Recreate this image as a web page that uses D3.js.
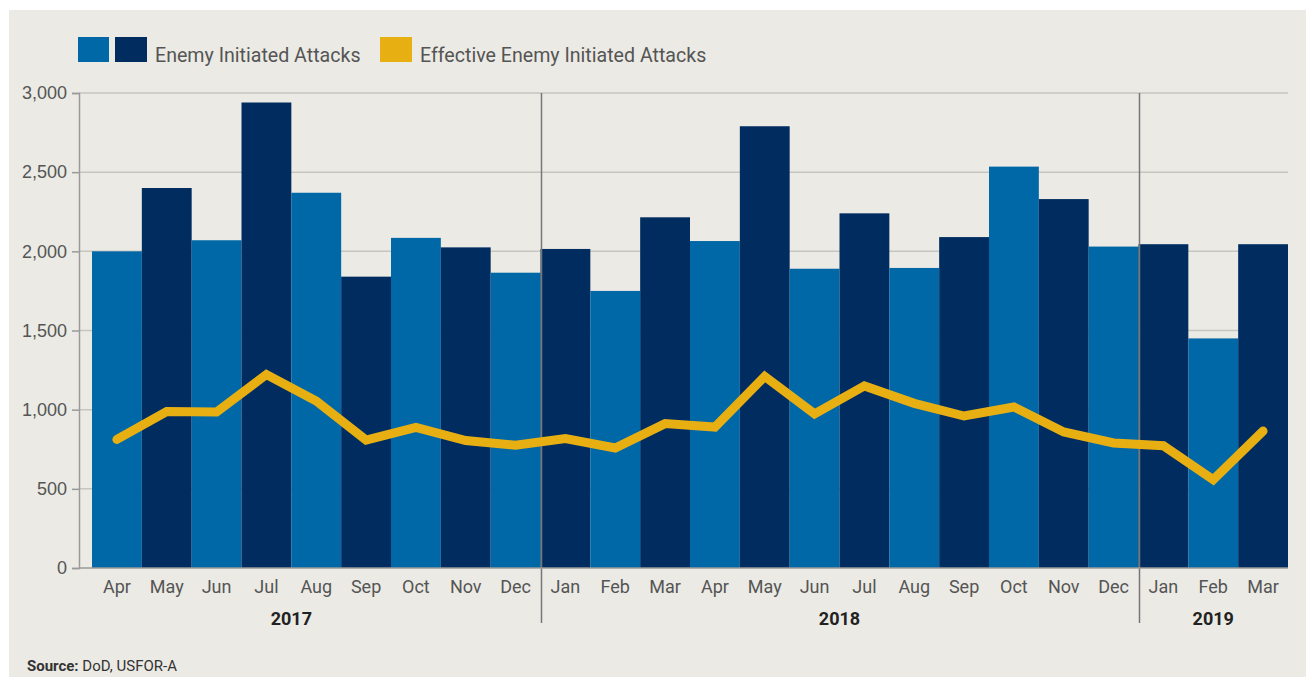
<!DOCTYPE html>
<html>
<head>
<meta charset="utf-8">
<script src="https://cdn.jsdelivr.net/npm/d3@7"></script>
<style>
  body { margin: 0; background: #ffffff; }
  svg { display: block; font-family: Roboto, "Open Sans", sans-serif; }
</style>
</head>
<body>
<svg id="chart" width="1306" height="677"></svg>
<script>
// month labels, one per bar
var months = ["Apr", "May", "Jun", "Jul", "Aug", "Sep", "Oct", "Nov", "Dec",
    "Jan", "Feb", "Mar", "Apr", "May", "Jun", "Jul", "Aug", "Sep", "Oct", "Nov", "Dec",
    "Jan", "Feb", "Mar"];
var years = [2017, 2017, 2017, 2017, 2017, 2017, 2017, 2017, 2017,
    2018, 2018, 2018, 2018, 2018, 2018, 2018, 2018, 2018, 2018, 2018, 2018,
    2019, 2019, 2019];

// enemy initiated attacks (bars)
var attacks = [2000, 2400, 2070, 2940, 2370, 1840, 2085, 2025, 1865,
    2015, 1750, 2215, 2065, 2790, 1890, 2240, 1895, 2090, 2535, 2330, 2030,
    2045, 1450, 2045];

// effective enemy initiated attacks (line)
var effective = [812, 988, 985, 1222, 1055, 808, 888, 805, 775,
    818, 758, 912, 890, 1210, 973, 1150, 1040, 960, 1017, 859, 790,
    772, 558, 865];

var yTicks = [0, 500, 1000, 1500, 2000, 2500, 3000];
var yearNames = [2017, 2018, 2019];

var lightBlue = "#0068a6",
    darkBlue = "#002c60",
    gold = "#e8af12",
    textGrey = "#555555";

var svg = d3.select("#chart");

// beige panel
svg.append("rect")
    .attr("x", 9).attr("y", 10)
    .attr("width", 1306 - 9).attr("height", 677 - 10)
    .attr("fill", "#ebeae4");

var keys = months.map(function (m, i) { return years[i] + "-" + m; });

var x = d3.scaleBand()
    .domain(keys)
    .range([92, 1288])
    .padding(0);

var y = d3.scaleLinear()
    .domain([0, 3000])
    .range([568, 93]);

// gridlines
svg.append("g")
    .selectAll("line")
    .data(yTicks.filter(function (d) { return d > 0; }))
    .enter().append("line")
    .attr("x1", 79).attr("x2", 1288)
    .attr("y1", function (d) { return y(d); })
    .attr("y2", function (d) { return y(d); })
    .attr("stroke", "#c6c5c0")
    .attr("stroke-width", 1.5);

// bars, alternating colours
svg.append("g")
    .selectAll("rect")
    .data(attacks)
    .enter().append("rect")
    .attr("x", function (d, i) { return x(keys[i]); })
    .attr("y", function (d) { return y(d); })
    .attr("width", x.bandwidth())
    .attr("height", function (d) { return y(0) - y(d); })
    .attr("fill", function (d, i) { return i % 2 == 0 ? lightBlue : darkBlue; });

// year separators
var firstOfYear = yearNames.slice(1).map(function (yr) {
    return x(keys[years.indexOf(yr)]);
});
svg.append("g")
    .selectAll("line")
    .data(firstOfYear)
    .enter().append("line")
    .attr("x1", function (d) { return d + 1; })
    .attr("x2", function (d) { return d + 1; })
    .attr("y1", 93).attr("y2", 623)
    .attr("stroke", "#77777a")
    .attr("stroke-width", 1.5);

// x baseline
svg.append("line")
    .attr("x1", 79).attr("x2", 1288)
    .attr("y1", y(0)).attr("y2", y(0))
    .attr("stroke", "#9a9a9a")
    .attr("stroke-width", 1.5);

// y axis
var yAxis = svg.append("g")
    .attr("transform", "translate(79,0)")
    .call(d3.axisLeft(y).tickValues(yTicks).tickSize(7).tickPadding(5)
        .tickFormat(d3.format(",")));
yAxis.select(".domain").attr("stroke", "#9a9a9a").attr("stroke-width", 1.5);
yAxis.selectAll(".tick line").attr("stroke", "#9a9a9a").attr("stroke-width", 1.5);
yAxis.selectAll(".tick text")
    .attr("fill", textGrey)
    .style("font-size", "18px");

// effective attacks line
var line = d3.line()
    .x(function (d, i) { return x(keys[i]) + x.bandwidth() / 2; })
    .y(function (d) { return y(d); });

svg.append("path")
    .datum(effective)
    .attr("d", line)
    .attr("fill", "none")
    .attr("stroke", gold)
    .attr("stroke-width", 9)
    .attr("stroke-linecap", "round")
    .attr("stroke-linejoin", "miter");

// month labels
svg.append("g")
    .selectAll("text")
    .data(months)
    .enter().append("text")
    .attr("x", function (d, i) { return x(keys[i]) + x.bandwidth() / 2; })
    .attr("y", 593)
    .attr("text-anchor", "middle")
    .attr("fill", textGrey)
    .style("font-size", "18px")
    .text(function (d) { return d; });

// year labels (placed roughly mid-block as in the original)
var yearAnchor = [4, 6, 1.5];
svg.append("g")
    .selectAll("text")
    .data(yearNames)
    .enter().append("text")
    .attr("x", function (d, i) {
        return x(keys[years.indexOf(d)]) + yearAnchor[i] * x.bandwidth();
    })
    .attr("y", 625)
    .attr("text-anchor", "middle")
    .attr("fill", "#222222")
    .style("font-size", "18px")
    .style("font-weight", "bold")
    .text(function (d) { return d; });

// legend
var legend = svg.append("g");
legend.append("rect").attr("x", 78).attr("y", 37).attr("width", 31).attr("height", 25).attr("fill", lightBlue);
legend.append("rect").attr("x", 115).attr("y", 37).attr("width", 32).attr("height", 25).attr("fill", darkBlue);
legend.append("text").attr("x", 155).attr("y", 62)
    .attr("fill", textGrey).style("font-size", "19.6px")
    .text("Enemy Initiated Attacks");
legend.append("rect").attr("x", 380).attr("y", 37).attr("width", 32).attr("height", 25).attr("fill", gold);
legend.append("text").attr("x", 420).attr("y", 62)
    .attr("fill", textGrey).style("font-size", "19.6px")
    .text("Effective Enemy Initiated Attacks");

// source
var src = svg.append("text").attr("x", 27).attr("y", 671)
    .attr("fill", "#333333").style("font-size", "15px");
src.append("tspan").style("font-weight", "bold").text("Source:");
src.append("tspan").text(" DoD, USFOR-A");
</script>
</body>
</html>
